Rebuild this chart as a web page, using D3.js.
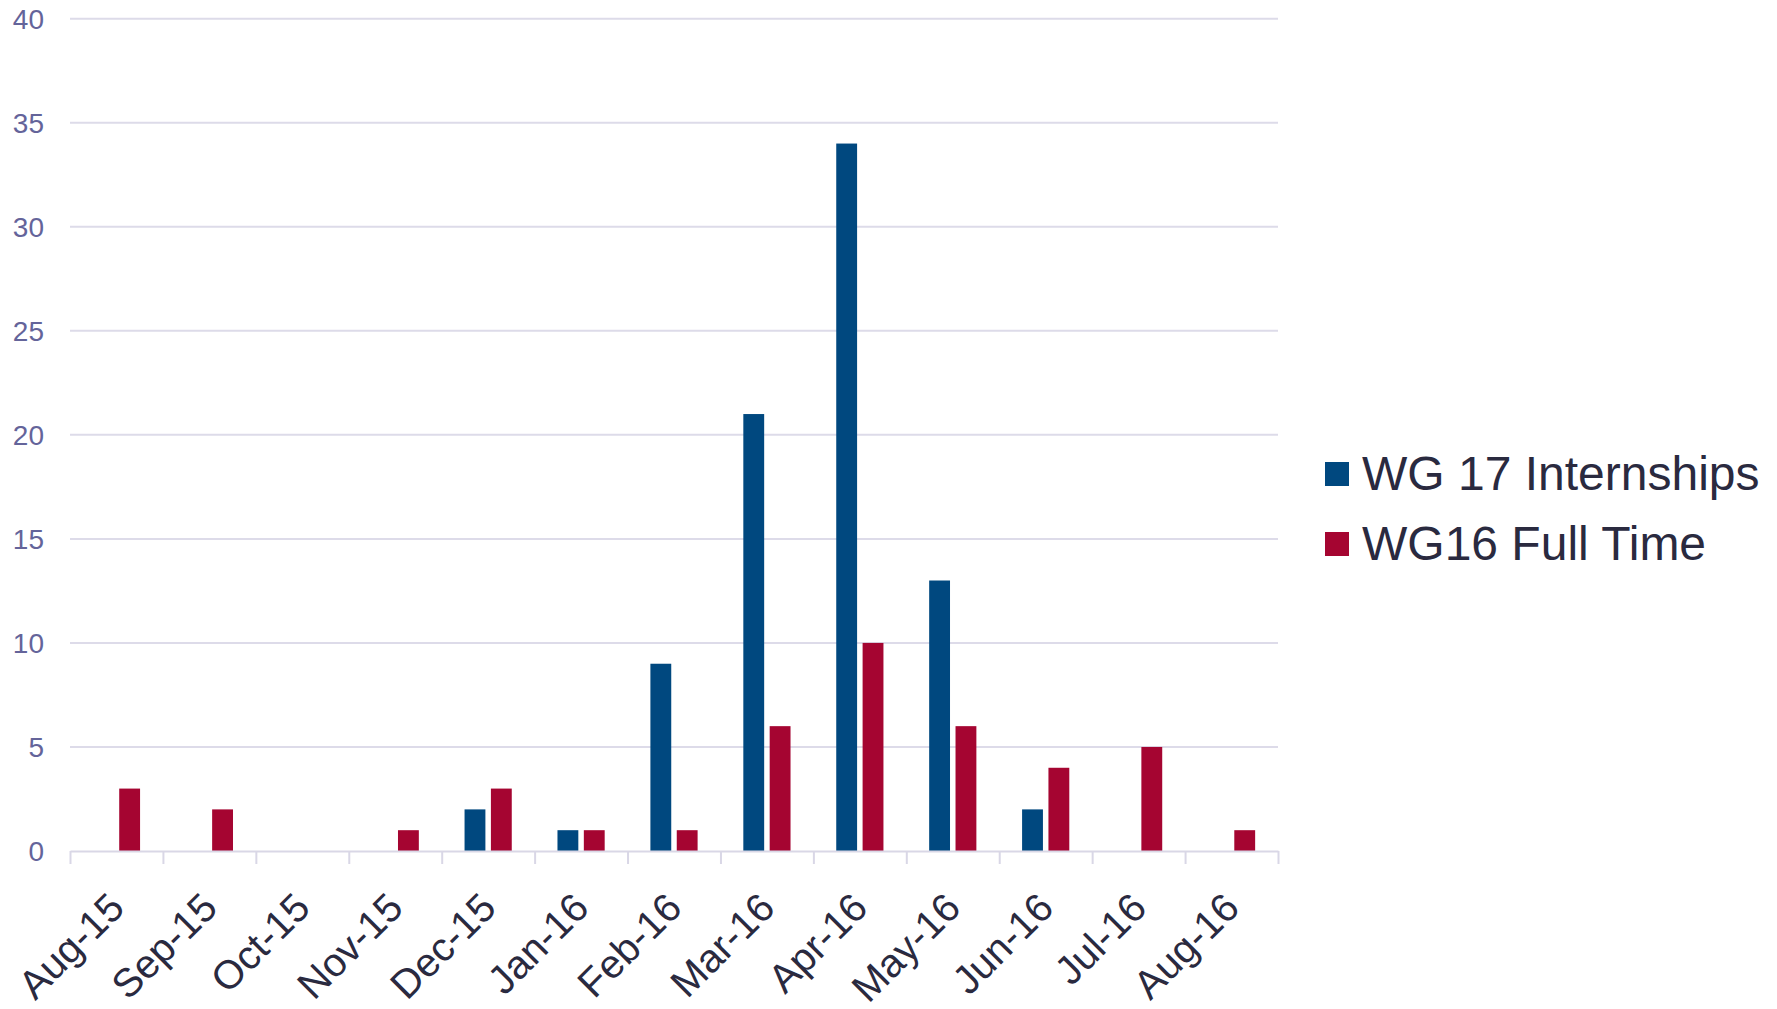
<!DOCTYPE html>
<html>
<head>
<meta charset="utf-8">
<script src="https://cdn.jsdelivr.net/npm/d3@7"></script>
<style>
  body { margin: 0; background: #ffffff; }
</style>
</head>
<body>
<div id="viz"></div>
<script>

const months = ["Aug-15", "Sep-15", "Oct-15", "Nov-15", "Dec-15", "Jan-16", "Feb-16",
  "Mar-16", "Apr-16", "May-16", "Jun-16", "Jul-16", "Aug-16"]
const internships = [0, 0, 0, 0, 2, 1, 9, 21, 34, 13, 2, 0, 0]
const fullTime = [3, 2, 0, 1, 3, 1, 1, 6, 10, 6, 4, 5, 1]
const seriesNames = ["WG 17 Internships", "WG16 Full Time"]
const yTicks = [0, 5, 10, 15, 20, 25, 30, 35, 40]

document.addEventListener("DOMContentLoaded", () => {

  const width = 1777
  const height = 1009

  const left = 70
  const right = 1278
  const top = 18.7
  const bottom = 851

  const font = "'Liberation Sans', Arial, sans-serif"
  const colors = ["#00487f", "#a50531"]

  const svg = d3.select("#viz").append("svg")
  .attr("width", width)
  .attr("height", height)
  .style("background-color", "#ffffff")

  const x0 = d3.scaleBand()
  .domain(months)
  .range([left, right])
  .paddingInner(0.492)
  .paddingOuter(0.246)

  const x1 = d3.scaleBand()
  .domain([0, 1])
  .range([0, x0.bandwidth()])
  .paddingInner(0.209)

  const y = d3.scaleLinear()
  .domain([0, 40])
  .range([bottom, top])

  // gridlines
  svg.append("g")
  .selectAll("line")
  .data(yTicks.filter(d => d > 0))
  .enter()
  .append("line")
  .attr("x1", left)
  .attr("x2", right)
  .attr("y1", d => y(d))
  .attr("y2", d => y(d))
  .attr("stroke", "#dddbe9")
  .attr("stroke-width", 2)

  // y labels
  svg.append("g")
  .selectAll("text")
  .data(yTicks)
  .enter()
  .append("text")
  .attr("x", 44)
  .attr("y", d => y(d) + 10)
  .attr("text-anchor", "end")
  .attr("font-size", 28)
  .attr("font-family", font)
  .attr("fill", "#64649a")
  .text(d => d)

  // bars
  const rows = months.map((m, i) => ({ month: m, values: [internships[i], fullTime[i]] }))

  const groups = svg.append("g")
  .selectAll("g")
  .data(rows)
  .enter()
  .append("g")
  .attr("transform", d => `translate(${x0(d.month)},0)`)

  groups.selectAll("rect")
  .data(d => d.values.map((v, k) => ({ k: k, v: v })).filter(e => e.v > 0))
  .enter()
  .append("rect")
  .attr("x", d => x1(d.k))
  .attr("y", d => y(d.v))
  .attr("width", x1.bandwidth())
  .attr("height", d => y(0) - y(d.v))
  .attr("fill", d => colors[d.k])

  // category axis, ticks between months
  const axis = d3.axisBottom(d3.scaleLinear().domain([0, months.length]).range([left, right]))
  .tickValues(d3.range(months.length + 1))
  .tickFormat("")
  .tickSizeInner(13)
  .tickSizeOuter(0)

  const axisG = svg.append("g")
  .attr("transform", `translate(0,${bottom})`)
  .call(axis)

  axisG.selectAll("line, path")
  .attr("stroke", "#d9d7e6")
  .attr("stroke-width", 2)

  // x labels
  svg.append("g")
  .selectAll("text")
  .data(months)
  .enter()
  .append("text")
  .attr("transform", d => `translate(${x0(d) + x0.bandwidth() / 2 + 10},${bottom + 59}) rotate(-45)`)
  .attr("text-anchor", "end")
  .attr("font-size", 40)
  .attr("font-family", font)
  .attr("fill", "#2a2a3f")
  .text(d => d)

  // legend
  const legend = svg.append("g")
  .selectAll("g")
  .data(seriesNames)
  .enter()
  .append("g")
  .attr("transform", (d, i) => `translate(1325,${462 + i * 70})`)

  legend.append("rect")
  .attr("width", 24)
  .attr("height", 24)
  .attr("fill", (d, i) => colors[i])

  legend.append("text")
  .attr("x", 37)
  .attr("y", 28)
  .attr("font-size", 48)
  .attr("font-family", font)
  .attr("fill", "#2a2a3f")
  .text(d => d)

})
</script>
</body>
</html>
